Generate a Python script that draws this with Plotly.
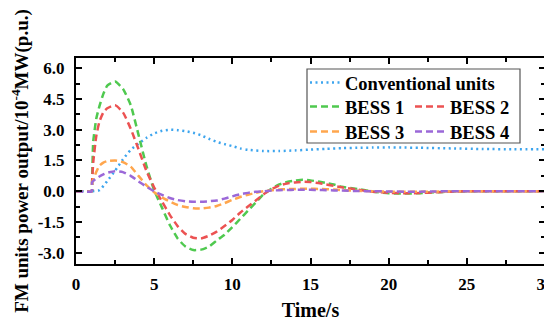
import plotly.graph_objects as go

# ---- data ----
t_conv = [0, 1.0, 1.5, 2.0, 2.5, 3.0, 3.5, 4.0, 4.5, 5.0, 5.5, 6.0, 6.5, 7.0, 7.5, 8.0, 8.5,
          9.0, 9.5, 10.0, 10.5, 11.0, 12.0, 13.0, 14.0, 15.0, 16.0, 17.0, 18.0, 19.0, 20.0,
          21.0, 22.0, 24.0, 26.0, 28.0, 30.0]
conv = [0, 0, 0.05, 0.5, 1.0, 1.55, 2.02, 2.32, 2.6, 2.82, 2.95, 3.0, 2.98, 2.93, 2.85, 2.73, 2.56,
        2.41, 2.3, 2.2, 2.09, 2.02, 1.96, 1.96, 1.99, 2.03, 2.07, 2.1, 2.12, 2.13, 2.14,
        2.13, 2.12, 2.09, 2.06, 2.05, 2.05]

t_bess = [0, 1.0, 1.03, 1.1, 1.3, 1.5, 1.75, 2.0, 2.5, 3.0, 3.5, 4.0, 4.5, 5.0, 5.5, 6.0, 6.5,
          7.0, 7.5, 8.0, 8.5, 9.0, 9.5, 10.0, 10.5, 11.0, 11.5, 12.0, 12.5, 13.0, 13.5, 14.0,
          14.5, 15.0, 15.5, 16.0, 16.5, 17.0, 18.0, 19.0, 20.0, 21.0, 22.0, 23.0, 24.0, 25.0,
          27.0, 30.0]
bess1 = [0, 0, 0.45, 2.4, 3.55, 4.15, 4.75, 5.15, 5.35, 5.0, 4.2, 2.75, 1.25, 0.05, -0.8, -1.65, -2.3,
         -2.7, -2.87, -2.85, -2.7, -2.4, -2.12, -1.75, -1.35, -0.95, -0.55, -0.15, 0.12, 0.33, 0.45, 0.52,
         0.56, 0.53, 0.47, 0.4, 0.33, 0.22, 0.11, -0.02, -0.1, -0.11, -0.1, -0.05, -0.02, 0.0,
         0.0, 0.0]
bess2 = [0, 0, 0.45, 1.4, 2.7, 3.4, 3.85, 4.05, 4.2, 3.85, 3.05, 2.05, 1.0, 0.18, -0.5, -1.15, -1.7,
         -2.08, -2.27, -2.3, -2.17, -1.97, -1.7, -1.4, -1.05, -0.75, -0.45, -0.15, 0.1, 0.28, 0.38, 0.43,
         0.46, 0.45, 0.4, 0.33, 0.26, 0.19, 0.08, -0.02, -0.08, -0.1, -0.09, -0.05, -0.02, 0.0,
         0.0, 0.0]
bess3 = [0, 0, 0.45, 0.55, 0.95, 1.25, 1.4, 1.47, 1.5, 1.42, 1.2, 0.75, 0.3, -0.05, -0.3, -0.5, -0.67,
         -0.77, -0.83, -0.84, -0.8, -0.72, -0.58, -0.42, -0.28, -0.17, -0.08, 0.0, 0.05, 0.08, 0.1, 0.11,
         0.12, 0.12, 0.11, 0.1, 0.08, 0.06, 0.02, 0.0, -0.02, -0.03, -0.03, -0.02, -0.01, 0.0,
         0.0, 0.0]
bess4 = [0, 0, 0.45, 0.5, 0.62, 0.72, 0.82, 0.9, 0.98, 0.93, 0.75, 0.48, 0.22, 0.0, -0.18, -0.33, -0.43,
         -0.49, -0.51, -0.51, -0.49, -0.45, -0.36, -0.25, -0.15, -0.08, -0.03, 0.0, 0.03, 0.05, 0.06, 0.07,
         0.07, 0.07, 0.06, 0.05, 0.04, 0.03, 0.01, 0.0, -0.01, -0.02, -0.02, -0.01, 0.0, 0.0,
         0.0, 0.0]

x_ticks = [0, 5, 10, 15, 20, 25, 30]
y_ticks = [-3.0, -1.5, 0.0, 1.5, 3.0, 4.5, 6.0]
y_tick_text = ["-3.0", "-1.5", "0.0", "1.5", "3.0", "4.5", "6.0"]

names = ["Conventional units", "BESS 1", "BESS 2", "BESS 3", "BESS 4"]
colors = ["#3DA5EE", "#4FC94F", "#EC5252", "#FFA64D", "#9B68D8"]

FONT = "Liberation Serif"

fig = go.Figure()
fig.add_trace(go.Scatter(x=t_conv, y=conv, name=names[0], mode="lines", showlegend=True,
                         line=dict(color=colors[0], width=2.5, dash="2px,3.5px", shape="spline", smoothing=0.6),
                         legend="legend"))
series = [bess1, bess2, bess3, bess4]
legs = ["legend2", "legend2", "legend3", "legend3"]
for i, s in enumerate(series):
    fig.add_trace(go.Scatter(x=t_bess, y=s, name=names[i + 1], mode="lines", showlegend=True,
                             line=dict(color=colors[i + 1], width=2.5, dash="7px,4px", shape="spline", smoothing=0.5),
                             legend=legs[i]))

axis_common = dict(showline=True, linewidth=2, linecolor="black", mirror="allticks",
                   ticks="inside", ticklen=6, tickwidth=2, tickcolor="black",
                   showgrid=False, zeroline=False, automargin=False,
                   ticklabeloverflow="allow",
                   tickfont=dict(family=FONT, size=17, color="black", weight="bold"))

fig.update_xaxes(range=[0, 30], tickvals=x_ticks,
                 minor=dict(ticks="inside", ticklen=4, tickwidth=1.5, tickcolor="black", dtick=2.5, tick0=0, showgrid=False),
                 title=dict(text="Time/s", font=dict(family=FONT, size=20, color="black", weight="bold"), standoff=10),
                 ticklabelstandoff=4,
                 **axis_common)
fig.update_yaxes(range=[-3.55, 6.5], tickvals=y_ticks, ticktext=y_tick_text,
                 minor=dict(ticks="inside", ticklen=4, tickwidth=1.5, tickcolor="black", dtick=0.75, tick0=0, showgrid=False),
                 title=dict(text="FM units power output/10<sup>-4</sup>MW(p.u.)",
                            font=dict(family=FONT, size=19, color="black", weight="bold"), standoff=4),
                 ticklabelstandoff=6,
                 **axis_common)

leg_font = dict(family=FONT, size=18.5, color="black", weight="bold")
leg_base = dict(bgcolor="rgba(0,0,0,0)", borderwidth=0, font=leg_font,
                xanchor="left", yanchor="middle", tracegroupgap=0)

# page body has an 8px margin: plot area in page pixels is x 76..545, y 58..264
OFF = 8
W, H = 552 - OFF, 321 - OFF
ml, mt = 76 - OFF, 58 - OFF
mr, mb = W - (545 - OFF), H - (264 - OFF)
pw, ph = W - ml - mr, H - mt - mb


def px_x(x):
    return (x - 76) / pw


def px_y(y):
    return (264 - y) / ph


lx = px_x(305)

fig.update_layout(
    width=W, height=H,
    margin=dict(l=ml, r=mr, t=mt, b=mb, autoexpand=False),
    paper_bgcolor="white", plot_bgcolor="white",
    showlegend=True,
    legend=dict(x=lx, y=px_y(83), orientation="v", **leg_base),
    legend2=dict(x=lx, y=px_y(107), orientation="h", entrywidth=60, entrywidthmode="pixels", **leg_base),
    legend3=dict(x=lx, y=px_y(132), orientation="h", entrywidth=60, entrywidthmode="pixels", **leg_base),
    shapes=[dict(type="rect", xref="paper", yref="paper",
                 x0=px_x(307), x1=px_x(520),
                 y0=px_y(143), y1=px_y(69),
                 line=dict(color="#555555", width=1.2), fillcolor="rgba(0,0,0,0)", layer="above")],
)

fig.write_html("out.html")
